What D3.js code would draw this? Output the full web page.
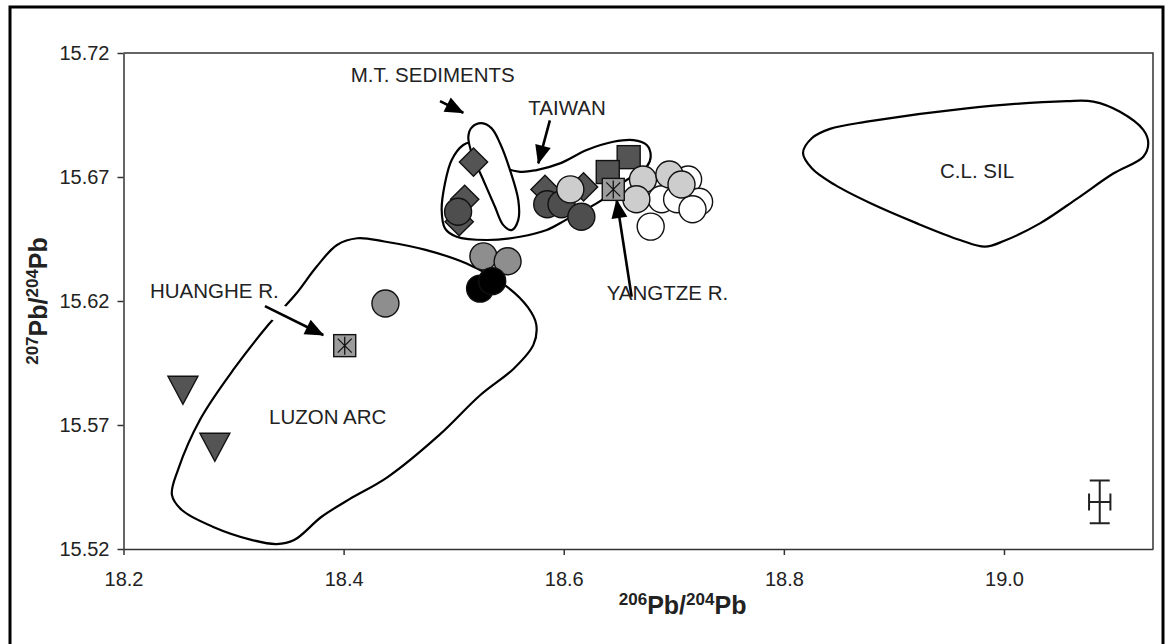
<!DOCTYPE html>
<html><head><meta charset="utf-8">
<script src="https://cdn.jsdelivr.net/npm/d3@7"></script>
<style>body{margin:0;background:#fff}svg{display:block}text{font-family:"Liberation Sans",Arial,sans-serif}</style>
</head><body><svg id="c" width="1165" height="644"></svg>
<script>
// ---- data ----
const xTicks = [18.2, 18.4, 18.6, 18.8, 19.0];
const yTicks = [15.52, 15.57, 15.62, 15.67, 15.72];

const whiteCircles = [[18.713,15.669],[18.689,15.661],[18.703,15.661],[18.723,15.660],[18.717,15.657],[18.679,15.650]];
const darkSquares = [[18.659,15.678],[18.640,15.672]];
const diamonds = [[18.518,15.676],[18.510,15.661],[18.505,15.652],[18.583,15.665],[18.618,15.666]];
const darkCircles = [[18.504,15.656],[18.585,15.659],[18.598,15.659],[18.616,15.654]];
const grayCircles = [[18.527,15.638],[18.549,15.636],[18.438,15.619]];
const blackCircles = [[18.524,15.625],[18.535,15.628]];
const lightCircles = [[18.606,15.665],[18.672,15.669],[18.696,15.671],[18.707,15.667],[18.666,15.661]];
const triangles = [[18.254,15.584],[18.283,15.561]];
const riverSamples = [[18.645,15.665],[18.401,15.602]];
const errorBar = [[19.087,15.539,0.0097,0.0086]];

const luzonArc = [[18.394,15.6426],[18.4125,15.6453],[18.437,15.644],[18.4745,15.6406],[18.5117,15.6351],[18.5489,15.6256],[18.5675,15.6174],[18.575,15.6106],[18.5725,15.6024],[18.555,15.5929],[18.524,15.582],[18.487,15.566],[18.44,15.549],[18.405,15.540],[18.38,15.533],[18.355,15.5236],[18.339,15.522],[18.317,15.5236],[18.281,15.529],[18.253,15.5357],[18.244,15.5418],[18.2496,15.552],[18.27,15.5725],[18.301,15.593],[18.332,15.6106],[18.3568,15.6229],[18.3754,15.6338]];
const taiwan = [[18.5087,15.6829],[18.5148,15.6838],[18.53,15.6809],[18.5421,15.6748],[18.5603,15.6721],[18.5754,15.6728],[18.5966,15.6755],[18.6209,15.6809],[18.645,15.6842],[18.6632,15.6849],[18.6754,15.6829],[18.679,15.6782],[18.6754,15.6742],[18.6572,15.6688],[18.6345,15.6607],[18.6027,15.6529],[18.5845,15.6486],[18.5603,15.6459],[18.53,15.6446],[18.5027,15.6459],[18.4921,15.6493],[18.4891,15.6567],[18.4921,15.6675],[18.4982,15.6769]];
const mtSediments = [[18.5255,15.6917],[18.5345,15.6896],[18.5421,15.6836],[18.5512,15.6728],[18.5587,15.6607],[18.5587,15.6527],[18.5527,15.6486],[18.5451,15.6506],[18.5375,15.658],[18.5269,15.6688],[18.5164,15.6796],[18.5133,15.6862],[18.5164,15.69]];
const clSil = [[18.8174,15.6797],[18.8256,15.6857],[18.8419,15.6894],[18.8753,15.6923],[18.9661,15.6977],[19.057,15.7006],[19.0812,15.7004],[19.1054,15.6963],[19.1266,15.689],[19.1311,15.6836],[19.1266,15.6782],[19.0993,15.6714],[19.0661,15.6612],[19.0327,15.6513],[19.0009,15.6444],[18.9827,15.6419],[18.96,15.6446],[18.921,15.6513],[18.8783,15.6595],[18.8464,15.6668],[18.8256,15.6734]];

const labelTexts = ["M.T. SEDIMENTS","TAIWAN","YANGTZE R.","HUANGHE R.","LUZON ARC","C.L. SIL"];
const labelX = [18.4064,18.5678,18.639,18.2241,18.3322,18.9419];
const labelY = [15.7083,15.695,15.6204,15.6211,15.5704,15.6695];
const arrows = [[18.4876,15.7006,18.5087,15.6959],[18.5874,15.6928,18.5769,15.6755],[18.6617,15.6217,18.6481,15.6607],[18.3285,15.6179,18.3815,15.6063]];

// ---- drawing ----
const svg = d3.select("#c");
const x = d3.scaleLinear().domain([18.2, 19.1354]).range([123.5, 1153]);
const y = d3.scaleLinear().domain([15.52, 15.72]).range([549, 53]);

svg.append("rect").attr("x",10).attr("y",7).attr("width",1153).attr("height",660)
  .attr("fill","#fff").attr("stroke","#000").attr("stroke-width",3);

// plot box top/right
svg.append("path").attr("d",`M${x(18.2)},${y(15.72)}H${x.range()[1]}V${y(15.52)}`)
  .attr("fill","none").attr("stroke","#333").attr("stroke-width",1.5);

const gx = svg.append("g").attr("transform",`translate(0,${y(15.52)})`)
  .call(d3.axisBottom(x).tickValues(xTicks).tickFormat(d3.format(".1f")).tickSize(6).tickSizeOuter(0).tickPadding(17));
const gy = svg.append("g").attr("transform",`translate(${x(18.2)},0)`)
  .call(d3.axisLeft(y).tickValues(yTicks).tickFormat(d3.format(".2f")).tickSize(6).tickSizeOuter(0).tickPadding(8));
[gx,gy].forEach(g=>{
  g.select(".domain").attr("stroke","#333").attr("stroke-width",1.5);
  g.selectAll(".tick line").attr("stroke","#333").attr("stroke-width",1.5);
  g.selectAll(".tick text").attr("font-size",20).attr("fill","#222").attr("font-family","Liberation Sans, Arial, sans-serif");
});

// axis titles
const xt = svg.append("text").attr("x",x(18.708)).attr("y",614)
  .attr("text-anchor","middle").attr("font-weight","bold").attr("font-size",25).attr("fill","#222");
xt.append("tspan").attr("font-size",17).attr("dy",-9).text("206");
xt.append("tspan").attr("dy",9).text("Pb/");
xt.append("tspan").attr("font-size",17).attr("dy",-9).text("204");
xt.append("tspan").attr("dy",9).text("Pb");

const yt = svg.append("text").attr("transform",`translate(47,${(y.range()[0]+y.range()[1])/2}) rotate(-90)`)
  .attr("text-anchor","middle").attr("font-weight","bold").attr("font-size",25).attr("fill","#222");
yt.append("tspan").attr("font-size",17).attr("dy",-9).text("207");
yt.append("tspan").attr("dy",9).text("Pb/");
yt.append("tspan").attr("font-size",17).attr("dy",-9).text("204");
yt.append("tspan").attr("dy",9).text("Pb");

// outlines
const closed = d3.line().x(d=>x(d[0])).y(d=>y(d[1])).curve(d3.curveCatmullRomClosed.alpha(0.5));
svg.append("path").attr("d",closed(luzonArc)).attr("fill","none").attr("stroke","#000").attr("stroke-width",2.2);
svg.append("path").attr("d",closed(clSil)).attr("fill","none").attr("stroke","#000").attr("stroke-width",2.2);
svg.append("path").attr("d",closed(taiwan)).attr("fill","none").attr("stroke","#000").attr("stroke-width",2.2);
svg.append("path").attr("d",closed(mtSediments)).attr("fill","#fff").attr("stroke","#000").attr("stroke-width",2.2);

// arrows
const defs = svg.append("defs");
defs.append("marker").attr("id","ah").attr("markerUnits","userSpaceOnUse")
  .attr("markerWidth",22).attr("markerHeight",20).attr("viewBox","0 -10 19 20")
  .attr("refX",18).attr("refY",0).attr("orient","auto")
  .append("path").attr("d","M0,-8L19,0L0,8Z").attr("fill","#000");
// white halo for the Huanghe arrow tail, where it cuts the Luzon outline
const ha = arrows[3];
svg.append("line").attr("x1",x(ha[0])).attr("y1",y(ha[1]))
  .attr("x2",x(ha[0])+(x(ha[2])-x(ha[0]))*0.45).attr("y2",y(ha[1])+(y(ha[3])-y(ha[1]))*0.45)
  .attr("stroke","#fff").attr("stroke-width",18);
svg.selectAll("line.arrow").data(arrows).join("line").attr("class","arrow")
  .attr("x1",d=>x(d[0])).attr("y1",d=>y(d[1])).attr("x2",d=>x(d[2])).attr("y2",d=>y(d[3]))
  .attr("stroke","#000").attr("stroke-width",2.6).attr("marker-end","url(#ah)");

// labels
svg.selectAll("text.lab").data(labelTexts).join("text").attr("class","lab")
  .attr("x",(d,i)=>x(labelX[i])).attr("y",(d,i)=>y(labelY[i]))
  .attr("font-size",20.5).attr("fill","#222").text(d=>d);

// markers
const stroke = "#111", sw = 1.4, R = 13.5;
function circles(data, fill){
  svg.append("g").selectAll("circle").data(data).join("circle")
    .attr("cx",d=>x(d[0])).attr("cy",d=>y(d[1])).attr("r",R)
    .attr("fill",fill).attr("stroke",stroke).attr("stroke-width",sw);
}
circles(whiteCircles,"#ffffff");
svg.append("g").selectAll("rect").data(darkSquares).join("rect")
  .attr("x",d=>x(d[0])-11.5).attr("y",d=>y(d[1])-11.5).attr("width",23).attr("height",23)
  .attr("fill","#545454").attr("stroke",stroke).attr("stroke-width",sw);
svg.append("g").selectAll("path").data(diamonds).join("path")
  .attr("transform",d=>`translate(${x(d[0])},${y(d[1])}) rotate(45)`)
  .attr("d","M-10,-10H10V10H-10Z")
  .attr("fill","#545454").attr("stroke",stroke).attr("stroke-width",sw);
circles(darkCircles,"#4e4e4e");
circles(grayCircles,"#8e8e8e");
circles(blackCircles,"#000000");
circles(lightCircles,"#cdcdcd");
svg.append("g").selectAll("path").data(triangles).join("path")
  .attr("transform",d=>`translate(${x(d[0])},${y(d[1])})`)
  .attr("d","M-15,-14L15,-14L0,14Z")
  .attr("fill","#545454").attr("stroke",stroke).attr("stroke-width",sw);
const rs = svg.append("g").selectAll("g").data(riverSamples).join("g")
  .attr("transform",d=>`translate(${x(d[0])},${y(d[1])})`);
rs.append("rect").attr("x",-11).attr("y",-11).attr("width",22).attr("height",22)
  .attr("fill","#9c9c9c").attr("stroke",stroke).attr("stroke-width",sw);
rs.append("path").attr("d","M-7,-7L7,7M7,-7L-7,7M0,-9V9").attr("stroke","#111").attr("stroke-width",1.3);

// error bar
const eb = svg.append("g").selectAll("g").data(errorBar).join("g");
eb.append("path").attr("d",d=>{
  const cx=x(d[0]), cy=y(d[1]), x0=x(d[0]-d[2]), x1=x(d[0]+d[2]), y0=y(d[1]+d[3]), y1=y(d[1]-d[3]);
  return `M${cx},${y0}V${y1}M${cx-10},${y0}H${cx+10}M${cx-10},${y1}H${cx+10}M${x0},${cy}H${x1}M${x0},${cy-8.5}V${cy+8.5}M${x1},${cy-8.5}V${cy+8.5}`;
}).attr("fill","none").attr("stroke","#222").attr("stroke-width",2);
</script></body></html>
